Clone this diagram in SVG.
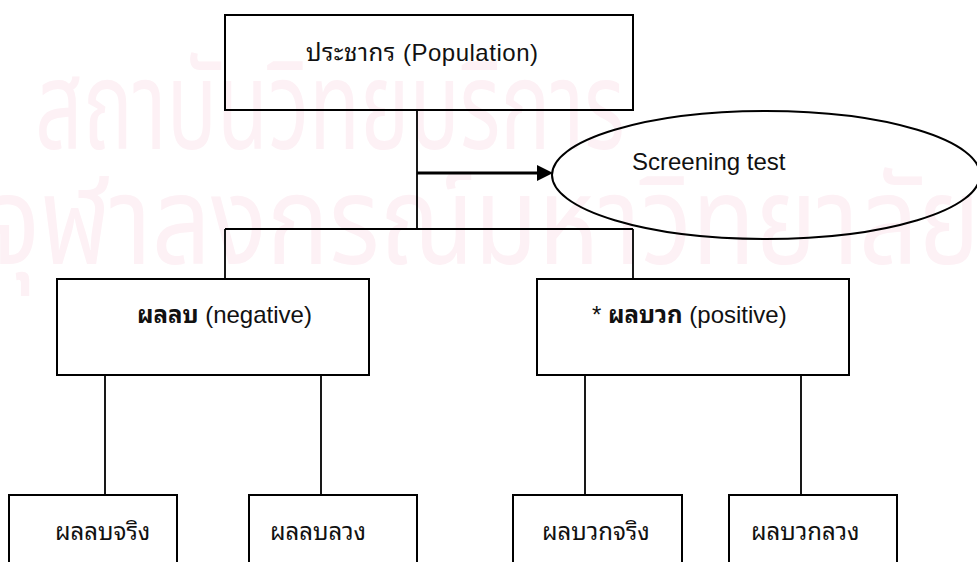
<svg xmlns="http://www.w3.org/2000/svg" width="977" height="562" viewBox="0 0 977 562">
<style>
.box{fill:none;stroke:#000;stroke-width:2}
.ln{fill:none;stroke:#000;stroke-width:1.8}
.t{font-family:"Liberation Sans","Noto Sans Thai Looped","Loma","Garuda","Noto Sans Thai","Noto Sans",sans-serif;font-size:24px;fill:#111}
.b{font-weight:bold}
.wm{font-family:"Noto Sans Thai","Noto Sans","DejaVu Sans",sans-serif;font-size:124px;fill:#fdf1f5}
</style>
<rect width="977" height="562" fill="#fff"/>
<g id="watermark">
<text class="wm" x="35" y="149" textLength="590" lengthAdjust="spacingAndGlyphs">สถาบันวิทยบริการ</text>
<text class="wm" x="-15" y="264" textLength="995" lengthAdjust="spacingAndGlyphs">จุฬาลงกรณ์มหาวิทยาลัย</text>
</g>
<g id="connectors">
<path class="ln" d="M417,110 V229 M225,229 H633 M225,229 V279 M633,229 V279"/>
<path d="M417,173 H539" stroke="#000" stroke-width="2.8"/>
<polygon points="537,165 553,173 537,181" fill="#000"/>
<path class="ln" d="M105,375 V495 M321,375 V495 M585,375 V495 M801,375 V495"/>
</g>
<g id="population">
<rect class="box" x="225" y="15" width="408" height="95"/>
<text class="t" x="306" y="61" textLength="232">ประชากร (Population)</text>
</g>
<g id="screening">
<ellipse cx="766" cy="175" rx="214" ry="64" fill="none" stroke="#000" stroke-width="2"/>
<text class="t" x="632" y="170">Screening test</text>
</g>
<g id="negative">
<rect class="box" x="57" y="279" width="312" height="96"/>
<text class="t" x="137" y="323"><tspan class="b">ผลลบ</tspan> (negative)</text>
</g>
<g id="positive">
<rect class="box" x="537" y="279" width="312" height="96"/>
<text class="t" x="592" y="323">* <tspan class="b">ผลบวก</tspan> (positive)</text>
</g>
<g id="tn">
<rect class="box" x="9" y="495" width="168" height="80"/>
<text class="t" x="55" y="540">ผลลบจริง</text>
</g>
<g id="fn">
<rect class="box" x="249" y="495" width="168" height="80"/>
<text class="t" x="270" y="540">ผลลบลวง</text>
</g>
<g id="tp">
<rect class="box" x="513" y="495" width="169" height="80"/>
<text class="t" x="542" y="540">ผลบวกจริง</text>
</g>
<g id="fp">
<rect class="box" x="729" y="495" width="168" height="80"/>
<text class="t" x="751" y="540">ผลบวกลวง</text>
</g>
</svg>
